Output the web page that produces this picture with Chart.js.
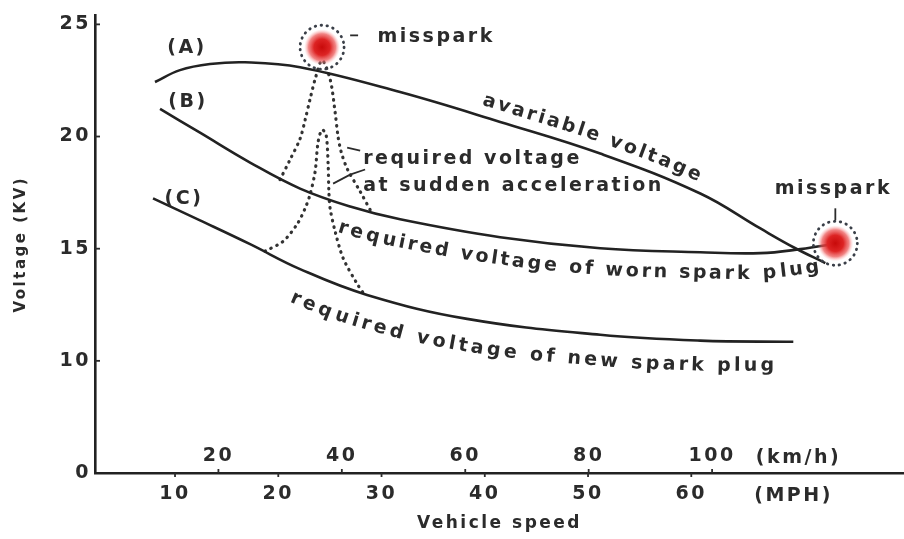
<!DOCTYPE html>
<html>
<head>
<meta charset="utf-8">
<script src="https://cdn.jsdelivr.net/npm/chart.js@4.4.1/dist/chart.umd.min.js"></script>
<style>
  html, body { margin: 0; padding: 0; background: #fff; }
</style>
</head>
<body>
<canvas id="chart" width="904" height="539"></canvas>
<script>
// speed in MPH, voltage in kV
const mphTicks = [10, 20, 30, 40, 50, 60];
const kmhTicks = [20, 40, 60, 80, 100];
const kvTicks = [5, 10, 15, 20, 25];
const kvTickLabels = ['0', '10', '15', '20', '25'];   // axis is broken below 10

// (A) available voltage
const availMph = [8.06, 10.48, 13.39, 16.78, 22.11, 31.8, 41.49, 51.18, 60.87, 66.69, 70.08, 72.98];
const availKv = [22.43, 22.96, 23.23, 23.31, 23.09, 21.98, 20.65, 19.24, 17.46, 15.90, 15.02, 14.36];

// (B) required voltage, worn plug
const wornMph = [8.55, 12.42, 17.27, 22.11, 26.96, 31.8, 41.49, 51.18, 60.87, 66.69, 70.56, 74.24];
const wornKv = [21.23, 20.17, 18.84, 17.68, 16.88, 16.31, 15.51, 15.02, 14.84, 14.80, 14.98, 15.24];

// (C) required voltage, new plug
const newMph = [7.87, 12.42, 17.27, 22.11, 28.6, 38.29, 51.18, 60.87, 69.88];
const newKv = [17.24, 16.26, 15.20, 14.09, 12.94, 11.87, 11.16, 10.90, 10.85];

// sudden acceleration spikes
const wornAccMph = [20.17, 21.14, 22.11, 22.6, 23.08, 23.57, 24.24, 25.02, 25.5, 25.79, 26.09, 26.67, 27.93, 29.09];
const wornAccKv = [18.08, 18.97, 19.90, 20.74, 21.67, 22.56, 23.40, 22.56, 21.10, 19.99, 19.32, 18.57, 17.55, 16.57];
const newAccMph = [18.72, 20.47, 21.82, 22.6, 23.08, 23.57, 23.86, 24.24, 24.63, 24.83, 24.9, 25.02, 25.5, 26.28, 27.64, 28.22];
const newAccKv = [14.89, 15.33, 16.09, 16.80, 17.42, 18.44, 19.77, 20.30, 20.08, 18.75, 17.55, 16.80, 15.78, 14.58, 13.43, 13.03];

// misspark spots
const missMph = [24.24, 73.95];
const missKv = [23.98, 15.24];

const FONT = '"DejaVu Sans", sans-serif';
const INK = '#2b2b2b';
const SPACING = 2.5;

function toXY(xs, ys) {
  return xs.map((x, i) => ({ x: x, y: ys[i] }));
}

// text notes, placed in data units
const notes = [
  { text: '(A)', mph: 11.16, kv: 23.94, align: 'center' },
  { text: '(B)', mph: 11.26, kv: 21.54, align: 'center' },
  { text: '(C)', mph: 10.87, kv: 17.2, align: 'center' },
  { text: 'misspark', mph: 35.29, kv: 24.42, align: 'center' },
  { text: 'misspark', mph: 73.76, kv: 17.68, align: 'center' },
  { text: 'required voltage', mph: 28.22, kv: 19.01, align: 'left' },
  { text: 'at sudden acceleration', mph: 28.22, kv: 17.77, align: 'left' }
];
const leaders = [
  [[26.67, 19.5], [27.93, 19.37]],
  [[25.31, 17.9], [26.96, 18.3], [28.41, 18.53]],
  [[26.96, 24.51], [27.73, 24.51]],
  [[73.95, 16.8], [73.95, 16.26]]
];
// labels that follow a curve: dataset index, start speed, offset at start/end (px)
const curveLabels = [
  { ds: 0, text: 'avariable voltage', mph: 39.4, off: [-16, -15], gap: 2.6 },
  { ds: 1, text: 'required voltage of worn spark plug', mph: 26.5, off: [23, 20], gap: 2.6 },
  { ds: 2, text: 'required voltage of new spark plug', mph: 22.4, off: [29, 24], gap: 3.1 }
];

function densify(pts) {
  const out = [];
  for (let i = 0; i < pts.length - 1; i++) {
    const p0 = pts[i], p1 = pts[i + 1];
    const c1x = p0.cp2x ?? p0.x, c1y = p0.cp2y ?? p0.y;
    const c2x = p1.cp1x ?? p1.x, c2y = p1.cp1y ?? p1.y;
    for (let k = 0; k < 24; k++) {
      const t = k / 24, u = 1 - t;
      out.push({
        x: u * u * u * p0.x + 3 * u * u * t * c1x + 3 * u * t * t * c2x + t * t * t * p1.x,
        y: u * u * u * p0.y + 3 * u * u * t * c1y + 3 * u * t * t * c2y + t * t * t * p1.y
      });
    }
  }
  out.push({ x: pts[pts.length - 1].x, y: pts[pts.length - 1].y });
  return out;
}

function pointAt(pts, cum, s) {
  let i = 1;
  while (i < pts.length - 1 && cum[i] < s) i++;
  const a = pts[i - 1], b = pts[i];
  const len = cum[i] - cum[i - 1] || 1;
  const f = (s - cum[i - 1]) / len;
  const tx = (b.x - a.x) / len, ty = (b.y - a.y) / len;
  return { x: a.x + (b.x - a.x) * f, y: a.y + (b.y - a.y) * f, tx: tx, ty: ty };
}

function textOnCurve(ctx, pts, text, startPx, off, gap) {
  const cum = [0];
  for (let i = 1; i < pts.length; i++) {
    cum.push(cum[i - 1] + Math.hypot(pts[i].x - pts[i - 1].x, pts[i].y - pts[i - 1].y));
  }
  let s = 0;
  for (let i = 1; i < pts.length; i++) {
    if (pts[i].x >= startPx) {
      const f = (startPx - pts[i - 1].x) / ((pts[i].x - pts[i - 1].x) || 1);
      s = cum[i - 1] + f * (cum[i] - cum[i - 1]);
      break;
    }
  }
  const widths = Array.from(text).map(ch => ctx.measureText(ch).width + gap);
  const total = widths.reduce((a, b) => a + b, 0);
  let used = 0;
  Array.from(text).forEach((ch, i) => {
    const w = widths[i];
    const p = pointAt(pts, cum, s + used + (w - gap) / 2);
    const o = off[0] + (off[1] - off[0]) * (used / total);
    ctx.save();
    ctx.translate(p.x - p.ty * o, p.y + p.tx * o);
    ctx.rotate(Math.atan2(p.ty, p.tx));
    ctx.fillText(ch, 0, 0);
    ctx.restore();
    used += w;
  });
}

const spacingPlugin = {
  id: 'spacing',
  beforeDraw(chart) {
    chart.ctx.letterSpacing = SPACING + 'px';
  }
};

const notesPlugin = {
  id: 'notes',
  afterDraw(chart) {
    const ctx = chart.ctx;
    const x = chart.scales.x, xkm = chart.scales.xkm, y = chart.scales.y;
    const axisY = x.top;

    // misspark spots
    missMph.forEach((m, i) => {
      const px = x.getPixelForValue(m), py = y.getPixelForValue(missKv[i]);
      ctx.save();
      const g = ctx.createRadialGradient(px, py, 0, px, py, 18);
      g.addColorStop(0, '#c80a0a');
      g.addColorStop(0.45, '#dd2424');
      g.addColorStop(0.75, 'rgba(235,80,80,0.7)');
      g.addColorStop(1, 'rgba(255,170,170,0)');
      ctx.fillStyle = g;
      ctx.beginPath();
      ctx.arc(px, py, 18, 0, Math.PI * 2);
      ctx.fill();
      ctx.setLineDash([0.5, 5.5]);
      ctx.lineCap = 'round';
      ctx.lineWidth = 2.8;
      ctx.strokeStyle = '#3a3f48';
      ctx.beginPath();
      ctx.arc(px, py, 22, 0, Math.PI * 2);
      ctx.stroke();
      ctx.restore();
    });

    // small leader lines
    ctx.save();
    ctx.strokeStyle = INK;
    ctx.lineWidth = 1.8;
    leaders.forEach(seg => {
      ctx.beginPath();
      seg.forEach((p, i) => {
        const px = x.getPixelForValue(p[0]), py = y.getPixelForValue(p[1]);
        if (i === 0) ctx.moveTo(px, py); else ctx.lineTo(px, py);
      });
      ctx.stroke();
    });

    // axis tick stubs
    kvTicks.slice(1).forEach(v => {
      const py = y.getPixelForValue(v);
      ctx.beginPath();
      ctx.moveTo(y.right, py);
      ctx.lineTo(y.right + 5, py);
      ctx.stroke();
    });
    mphTicks.forEach(v => {
      const px = x.getPixelForValue(v);
      ctx.beginPath();
      ctx.moveTo(px, axisY);
      ctx.lineTo(px, axisY + 4);
      ctx.stroke();
    });
    kmhTicks.forEach(v => {
      const px = xkm.getPixelForValue(v);
      ctx.beginPath();
      ctx.moveTo(px, axisY);
      ctx.lineTo(px, axisY - 4);
      ctx.stroke();
    });
    ctx.restore();

    // texts
    ctx.save();
    ctx.letterSpacing = SPACING + 'px';
    ctx.fillStyle = INK;
    ctx.font = 'bold 19px ' + FONT;
    ctx.textBaseline = 'middle';
    notes.forEach(n => {
      ctx.textAlign = n.align;
      ctx.fillText(n.text, x.getPixelForValue(n.mph), y.getPixelForValue(n.kv));
    });
    ctx.textAlign = 'center';
    kmhTicks.forEach(v => {
      ctx.fillText(String(v), xkm.getPixelForValue(v), axisY - 17);
    });
    ctx.fillText('(km/h)', xkm.getPixelForValue(114), axisY - 15);
    ctx.fillText('(MPH)', x.getPixelForValue(69.9), axisY + 23);

    ctx.letterSpacing = '0px';
    curveLabels.forEach(l => {
      const meta = chart.getDatasetMeta(l.ds);
      const pts = densify(meta.data);
      textOnCurve(ctx, pts, l.text, x.getPixelForValue(l.mph), l.off, l.gap);
    });
    ctx.restore();
  }
};

const solid = { borderColor: '#222', borderWidth: 2.6, pointRadius: 0, tension: 0.4, fill: false };
const dotted = { borderColor: '#333', borderWidth: 3.2, borderDash: [0.5, 6], borderCapStyle: 'round', pointRadius: 0, tension: 0.3, fill: false };

new Chart(document.getElementById('chart').getContext('2d'), {
  type: 'line',
  data: {
    datasets: [
      Object.assign({ label: '(A)', data: toXY(availMph, availKv) }, solid),
      Object.assign({ label: '(B)', data: toXY(wornMph, wornKv) }, solid),
      Object.assign({ label: '(C)', data: toXY(newMph, newKv) }, solid),
      Object.assign({ label: 'worn, sudden acceleration', data: toXY(wornAccMph, wornAccKv) }, dotted),
      Object.assign({ label: 'new, sudden acceleration', data: toXY(newAccMph, newAccKv) }, dotted)
    ]
  },
  options: {
    responsive: false,
    animation: false,
    layout: { padding: { top: 13, right: 0, left: 0, bottom: 0 } },
    plugins: {
      legend: { display: false },
      tooltip: { enabled: false }
    },
    scales: {
      x: {
        type: 'linear',
        position: 'bottom',
        min: 2.25,
        max: 80.6,
        afterBuildTicks: s => { s.ticks = mphTicks.map(v => ({ value: v })); },
        afterFit: s => { s.height = 66; },
        ticks: { color: INK, font: { family: FONT, size: 19, weight: 'bold' }, padding: 10, maxRotation: 0 },
        grid: { display: true, drawOnChartArea: false, drawTicks: false },
        border: { display: true, color: '#222', width: 2.6 },
        title: {
          display: true, text: 'Vehicle speed', color: INK,
          font: { family: FONT, size: 17, weight: 'bold' }, padding: { top: 0, bottom: 5 }
        }
      },
      xkm: {
        type: 'linear',
        position: 'bottom',
        display: false,
        min: 0,
        max: 131.1
      },
      y: {
        type: 'linear',
        min: 5,
        max: 25.4,
        afterBuildTicks: s => { s.ticks = kvTicks.map(v => ({ value: v })); },
        afterFit: s => { s.width = 95; },
        ticks: {
          color: INK, font: { family: FONT, size: 19, weight: 'bold' }, padding: 4,
          callback: v => kvTickLabels[kvTicks.indexOf(v)]
        },
        grid: { display: true, drawOnChartArea: false, drawTicks: false },
        border: { display: true, color: '#222', width: 2.6 },
        title: {
          display: true, text: 'Voltage (KV)', color: INK,
          font: { family: FONT, size: 15, weight: 'bold' }, padding: { top: 12, bottom: 0 }
        }
      }
    }
  },
  plugins: [spacingPlugin, notesPlugin]
});
</script>
</body>
</html>
